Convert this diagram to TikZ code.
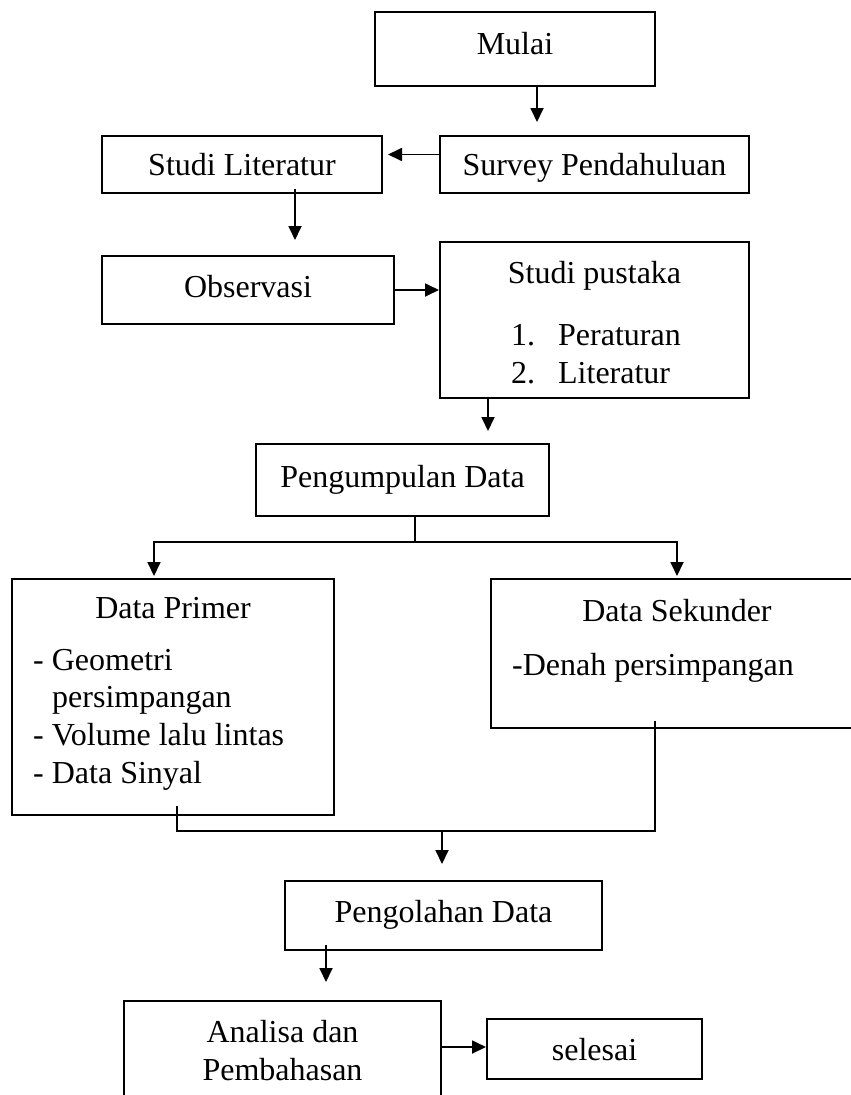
\documentclass[tikz,border=0pt]{standalone}
\usepackage{fontspec}
\setmainfont{Liberation Serif}
\usetikzlibrary{arrows.meta}

\begin{document}
\begin{tikzpicture}[x=1pt,y=-1pt,
  font=\fontsize{32pt}{38pt}\selectfont,
  kotak/.style={draw,line width=2pt,rectangle,inner sep=0pt,text height=22pt,text depth=0pt},
  teks/.style={inner sep=0pt,anchor=base},
  garis/.style={line width=1.8pt},
  panah/.style={line width=1.8pt,-{Triangle[length=14pt,width=13pt]}}]
\useasboundingbox (0,0) rectangle (851,1095);
\clip (0,0) rectangle (851,1095);

%baris atas
\node[kotak,minimum width=280pt,minimum height=74pt,text depth=12pt] (mulai) at (515,49) {Mulai};
\node[kotak,minimum width=309pt,minimum height=57pt] (survey) at (594.5,164.5) {Survey Pendahuluan};
\node[kotak,minimum width=280pt,minimum height=57pt] (studilit) at (242,164.5) {Studi Literatur};
\node[kotak,minimum width=292pt,minimum height=68pt,text depth=8pt] (observasi) at (248,290) {Observasi};

%studi pustaka, isi ditulis sendiri
\node[kotak,minimum width=309pt,minimum height=156pt] (pustaka) at (594.5,320) {};
\node[teks] (pustakajudul) at (594.5,283) {Studi pustaka};
\node[teks,anchor=base west] (pustaka1) at (511,345) {\makebox[47pt][l]{1.}Peraturan};
\node[teks,anchor=base west] (pustaka2) at (511,383) {\makebox[47pt][l]{2.}Literatur};

\node[kotak,minimum width=293pt,minimum height=72pt,text depth=8pt] (kumpul) at (402.5,480) {Pengumpulan Data};

%data primer
\node[kotak,minimum width=322pt,minimum height=236pt] (primer) at (173,697) {};
\node[teks] (primerjudul) at (173,618) {Data Primer};
\node[teks,anchor=base west] (primer1) at (33,670) {- Geometri};
\node[teks,anchor=base west] (primer2) at (52,707) {persimpangan};
\node[teks,anchor=base west] (primer3) at (33,745) {- Volume lalu lintas};
\node[teks,anchor=base west] (primer4) at (33,783) {- Data Sinyal};

%data sekunder (sisi kanan terpotong)
\node[kotak,minimum width=372pt,minimum height=149pt] (sekunder) at (677,653.5) {};
\node[teks] (sekunderjudul) at (677,621) {Data Sekunder};
\node[teks,anchor=base west] (sekunder1) at (512,675) {-Denah persimpangan};

%baris bawah
\node[kotak,minimum width=317pt,minimum height=69pt,text depth=9pt] (olah) at (443.5,915.5) {Pengolahan Data};
\node[kotak,minimum width=317pt,minimum height=110pt] (analisa) at (282.5,1056) {};
\node[teks] (analisa1) at (282.5,1042) {Analisa dan};
\node[teks] (analisa2) at (282.5,1080) {Pembahasan};
\node[kotak,minimum width=215pt,minimum height=60pt] (selesai) at (594.5,1049) {selesai};

%panah
\draw[panah,shorten >=13pt] ([xshift=22pt]mulai.south) -- ([xshift=22pt]mulai.south |- survey.north);
\draw[panah,shorten >=5pt] ([yshift=10pt]survey.west) -- ([yshift=10pt]survey.west -| studilit.east);
\draw[panah,shorten >=15pt] ([xshift=53pt,yshift=5pt]studilit.south) -- ([xshift=53pt]studilit.south |- observasi.north);
\draw[panah] (observasi.east) -- (observasi.east -| pustaka.west);
\draw[panah,shorten >=12pt] ([xshift=-106.5pt]pustaka.south) -- ([xshift=-106.5pt]pustaka.south |- kumpul.north);

%cabang ke primer dan sekunder
\coordinate (cabang) at (415,542);
\draw[garis] (cabang |- kumpul.south) -- (cabang);
\draw[panah,shorten >=2pt] (cabang) -| ([xshift=-19pt]primer.north);
\draw[panah,shorten >=2pt] (cabang) -| (sekunder.north);

%gabung ke pengolahan
\coordinate (gabung) at (442,831);
\draw[garis] ([xshift=4pt,yshift=10pt]primer.south) |- (gabung) -| ([xshift=-22pt,yshift=8pt]sekunder.south);
\draw[panah,shorten >=16pt] (gabung) -- (gabung |- olah.north);

\draw[panah,shorten >=18pt] ([xshift=-117.5pt,yshift=6pt]olah.south) -- ([xshift=-117.5pt]olah.south |- analisa.north);
\draw[panah] ([yshift=2pt]selesai.west -| analisa.east) -- ([yshift=2pt]selesai.west);

\end{tikzpicture}
\end{document}
